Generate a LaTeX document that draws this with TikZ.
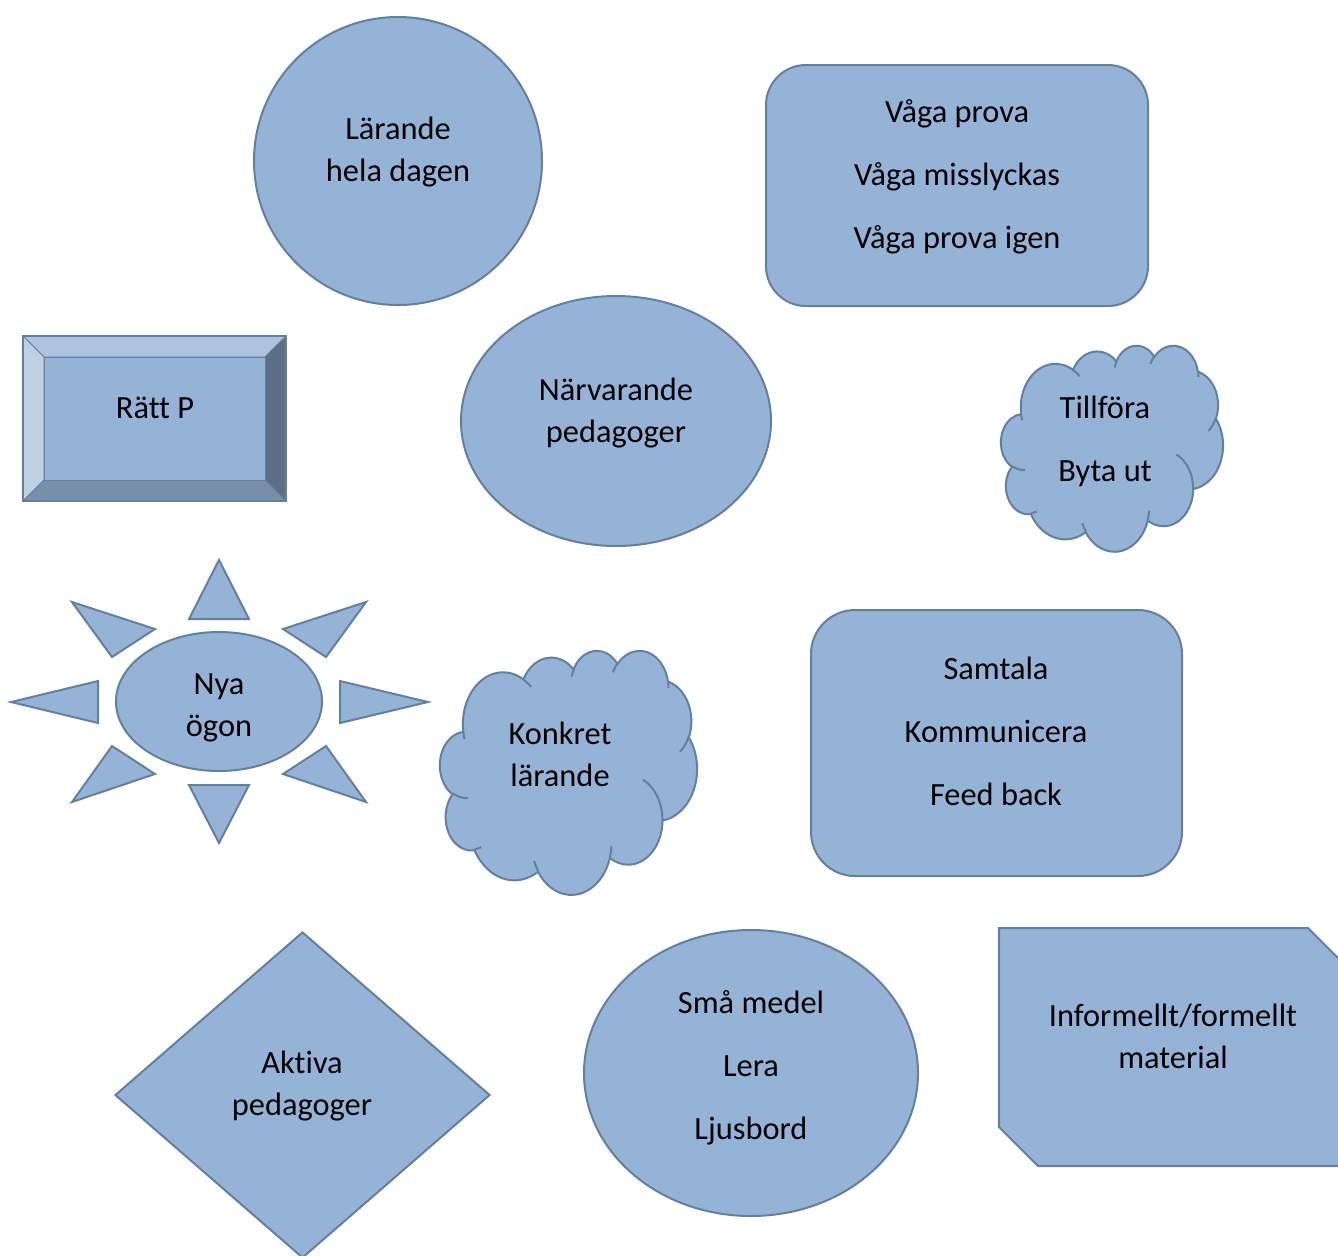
\documentclass[tikz,border=0pt]{standalone}
\usepackage{fontspec}
\setmainfont{Carlito}[Ligatures=NoCommon]
\usetikzlibrary{shapes.geometric}

\definecolor{boxfill}{HTML}{95B3D7}
\definecolor{boxline}{HTML}{64809F}
\definecolor{beveltop}{HTML}{AEC4DE}
\definecolor{bevelleft}{HTML}{C0D1E5}
\definecolor{bevelright}{HTML}{5D6F85}
\definecolor{bevelbottom}{HTML}{778FAA}

\begin{document}
\begin{tikzpicture}[x=0.5pt,y=-0.5pt,
    shp/.style={draw=boxline,fill=boxfill,line width=1pt,inner sep=0pt},
    face/.style={draw=boxline,line width=0.4pt},
    txt/.style={font=\fontsize{16.2}{21}\selectfont,align=center,inner sep=0pt},
    wordcloud/.pic={
      \draw[shp] (9.028,33.264)
        arc[start angle=-187.745,delta angle=128.111,x radius=15.632,y radius=21.273]
        arc[start angle=-152.02,delta angle=106.56,x radius=12.345,y radius=16.822]
        arc[start angle=-153.49,delta angle=116.18,x radius=10.104,y radius=13.762]
        arc[start angle=-139.71,delta angle=129.50,x radius=11.243,y radius=15.266]
        arc[start angle=-74.77,delta angle=97.98,x radius=12.345,y radius=16.836]
        arc[start angle=-37.51,delta angle=119.37,x radius=15.683,y radius=21.343]
        arc[start angle=0.46,delta angle=121.51,x radius=13.391,y radius=18.211]
        arc[start angle=16.84,delta angle=129.39,x radius=15.630,y radius=21.331]
        arc[start angle=59.01,delta angle=91.16,x radius=17.870,y radius=24.405]
        arc[start angle=-276.69,delta angle=139.80,x radius=10.093,y radius=13.699]
        arc[start angle=-239.65,delta angle=143.76,x radius=10.058,y radius=13.762]
        -- cycle;
      \draw[boxline,line width=1pt]
        (10.863,60.595) arc[start angle=85.54,delta angle=34.81,x radius=10.058,y radius=13.762]
        (16.037,80.785) arc[start angle=68.24,delta angle=15.07,x radius=10.093,y radius=13.699]
        (38.144,90.486) arc[start angle=146.23,delta angle=12.24,x radius=15.630,y radius=21.331]
        (66.729,80.442) arc[start angle=4.74,delta angle=12.10,x radius=15.630,y radius=21.331]
        (79.002,53.134) arc[start angle=-63.97,delta angle=64.43,x radius=13.391,y radius=18.211]
        (96.755,35.542) arc[start angle=23.21,delta angle=26.45,x radius=12.345,y radius=16.836]
        (88.713,12.560) arc[start angle=-10.21,delta angle=11.03,x radius=11.243,y radius=15.266]
        (67.310,9.148) arc[start angle=-156.29,delta angle=16.58,x radius=11.243,y radius=15.266]
        (51.252,10.926) arc[start angle=-167.73,delta angle=14.24,x radius=10.104,y radius=13.762]
        (32.407,12.019) arc[start angle=-59.63,delta angle=13.88,x radius=15.632,y radius=21.273]
        (9.553,36.549) arc[start angle=163.19,delta angle=9.06,x radius=15.632,y radius=21.273];
    }]
  \useasboundingbox (0,0) rectangle (1338,1255);

  % top row
  \node[shp,circle,minimum size=144pt] (larande) at (398,161) {};
  \node[txt] (larandetxt) at (398,152) {Lärande\\hela dagen};

  \node[shp,rectangle,rounded corners=20pt,minimum width=191pt,minimum height=120.5pt] (vaga) at (957,185.5) {};
  \node[txt] (vagatxt) at (957,177) {Våga prova\\[10.5pt]Våga misslyckas\\[10.5pt]Våga prova igen};

  % bevel box
  \fill[beveltop,face] (23,336) -- (286,336) -- (265,357) -- (44,357) -- cycle;
  \fill[bevelleft,face] (23,336) -- (44,357) -- (44,480) -- (23,501) -- cycle;
  \fill[bevelright,face] (286,336) -- (286,501) -- (265,480) -- (265,357) -- cycle;
  \fill[bevelbottom,face] (23,501) -- (286,501) -- (265,480) -- (44,480) -- cycle;
  \node[face,fill=boxfill,minimum width=110.5pt,minimum height=61.5pt,inner sep=0pt] (ratt) at (154.5,418.5) {};
  \draw[boxline,line width=1pt] (23,336) rectangle (286,501);
  \node[txt] (ratttxt) at (155,408) {Rätt P};

  % middle row
  \node[shp,ellipse,minimum width=155pt,minimum height=125pt] (narvarande) at (616,421) {};
  \node[txt] (narvarandetxt) at (616,413) {Närvarande\\pedagoger};

  \pic[xscale=2.22,yscale=2.06] (tillfora) at (1001,345) {wordcloud};
  \node[txt] (tillforatxt) at (1105,441) {Tillföra\\[10.5pt]Byta ut};

  % sun
  \node[shp,ellipse,minimum width=103pt,minimum height=69.5pt] (nya) at (219,701.5) {};
  \draw[shp] (219,560) -- (249,619) -- (189,619) -- cycle;
  \draw[shp] (219,843) -- (249,785) -- (189,785) -- cycle;
  \draw[shp] (11,702) -- (98,681) -- (98,723) -- cycle;
  \draw[shp] (428,702) -- (340,681) -- (340,723) -- cycle;
  \draw[shp] (72,602) -- (155,629) -- (112,657) -- cycle;
  \draw[shp] (366,602) -- (283,629) -- (326,657) -- cycle;
  \draw[shp] (72,802) -- (155,774) -- (112,746) -- cycle;
  \draw[shp] (366,802) -- (283,774) -- (326,746) -- cycle;
  \node[txt] (nyatxt) at (219,708) {Nya\\ögon};

  \pic[xscale=2.57,yscale=2.44] (konkret) at (440,650) {wordcloud};
  \node[txt] (konkrettxt) at (560,754) {Konkret\\lärande};

  \node[shp,rectangle,rounded corners=22pt,minimum width=185.5pt,minimum height=133pt] (samtala) at (996.5,743) {};
  \node[txt] (samtalatxt) at (996,731) {Samtala\\[10.5pt]Kommunicera\\[10.5pt]Feed back};

  % bottom row
  \node[shp,diamond,minimum width=187.5pt,minimum height=163pt] (aktiva) at (302.5,1095) {};
  \node[txt] (aktivatxt) at (302,1086) {Aktiva\\pedagoger};

  \node[shp,ellipse,minimum width=167pt,minimum height=143pt] (sma) at (751,1073) {};
  \node[txt] (smatxt) at (751,1068) {Små medel\\[10.5pt]Lera\\[10.5pt]Ljusbord};

  \draw[shp] (999,928) -- (1308,928) -- (1347,967) -- (1347,1166) -- (1038,1166) -- (999,1127) -- cycle;
  \node[txt] (materialtxt) at (1173,1036) {Informellt/formellt\\material};
\end{tikzpicture}
\end{document}
